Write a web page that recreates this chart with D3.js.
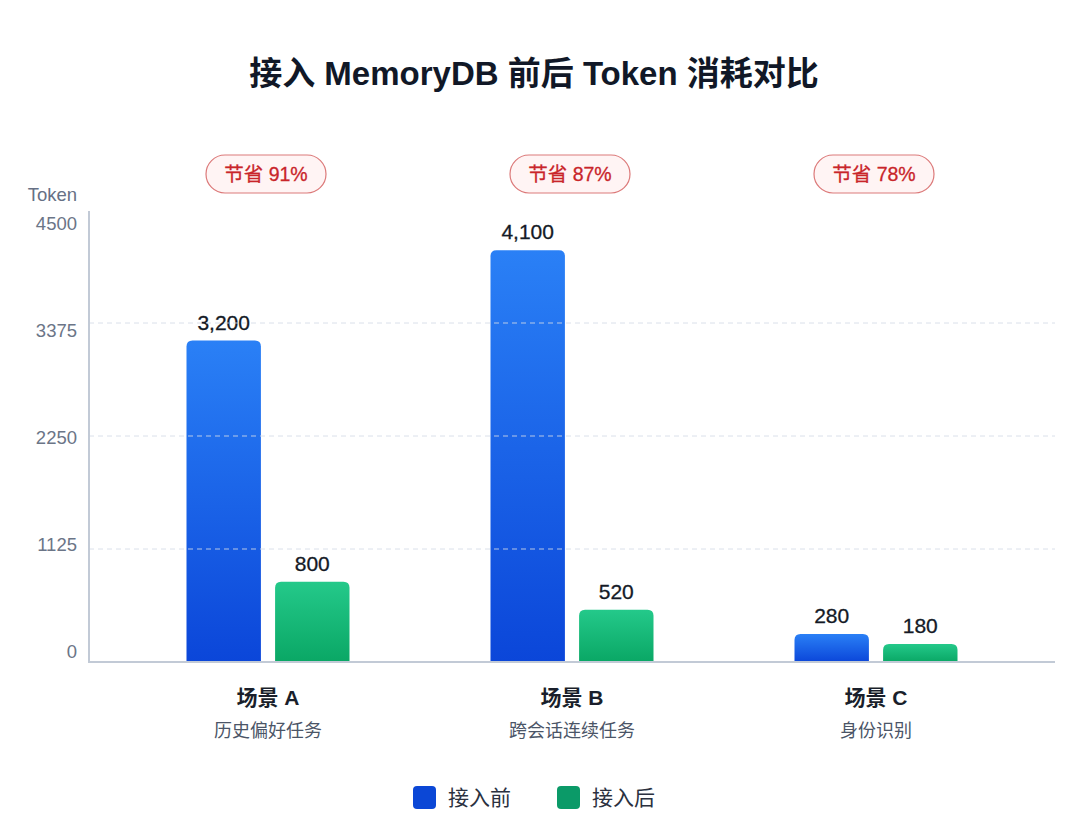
<!DOCTYPE html>
<html>
<head>
<meta charset="utf-8">
<script src="https://cdn.jsdelivr.net/npm/d3@7/dist/d3.min.js"></script>
<style>
  html, body { margin: 0; padding: 0; background: #ffffff; }
  svg { display: block; font-family: "Liberation Sans", "Noto Sans CJK SC", sans-serif; }
</style>
</head>
<body>
<div id="chart"></div>
<script>
/* chart data */
var categories = ["场景 A", "场景 B", "场景 C"]
var subtitles = ["历史偏好任务", "跨会话连续任务", "身份识别"]
var seriesNames = ["接入前", "接入后"]
var beforeValues = [3200, 4100, 280]
var afterValues = [800, 520, 180]
var savings = ["节省 91%", "节省 87%", "节省 78%"]
var yTicks = [0, 1125, 2250, 3375, 4500]

var width = 1080, height = 823

var svg = d3.select("#chart").append("svg")
  .attr("width", width)
  .attr("height", height)

/* gradients */
var defs = svg.append("defs")
function makeGrad(id, top, bottom) {
  var g = defs.append("linearGradient")
    .attr("id", id)
    .attr("x1", 0).attr("y1", 0).attr("x2", 0).attr("y2", 1)
  g.append("stop").attr("offset", "0%").attr("stop-color", top)
  g.append("stop").attr("offset", "100%").attr("stop-color", bottom)
}
makeGrad("gradBefore", "#2a80f6", "#0b46d9")
makeGrad("gradAfter", "#24c98a", "#0aa765")

var seriesFill = ["url(#gradBefore)", "url(#gradAfter)"]
var legendColors = ["#0b47d6", "#0b9a68"]

/* scales */
var plotLeft = 89, plotRight = 1055
var y = d3.scaleLinear()
  .domain([0, 4500])
  .range([662, 210])
// tick labels sit slightly off their grid lines in the original
var yLabel = d3.scaleLinear()
  .domain([0, 4500])
  .range([652, 224])

var x0 = d3.scaleBand()
  .domain(categories)
  .range([116, 1028])

var x1 = d3.scaleBand()
  .domain(seriesNames)
  .range([0, 163])
  .paddingInner(0.16)

/* title */
svg.append("text")
  .attr("x", width / 2 - 6)
  .attr("y", 85)
  .attr("text-anchor", "middle")
  .style("font-size", "33px")
  .style("font-weight", "700")
  .style("fill", "#111827")
  .text("接入 MemoryDB 前后 Token 消耗对比")

/* y axis label */
svg.append("text")
  .attr("x", 77)
  .attr("y", 201)
  .attr("text-anchor", "end")
  .style("font-size", "18.5px")
  .style("fill", "#667085")
  .text("Token")

/* y ticks */
svg.selectAll(".ytick")
  .data(yTicks)
  .enter().append("text")
  .attr("class", "ytick")
  .attr("x", 77)
  .attr("y", function(d) { return yLabel(d) })
  .attr("dy", "0.35em")
  .attr("text-anchor", "end")
  .style("font-size", "18.5px")
  .style("fill", "#6b7587")
  .text(function(d) { return d })

/* bars */
var groups = svg.selectAll(".group")
  .data(categories)
  .enter().append("g")
  .attr("class", "group")
  .attr("transform", function(d) { return "translate(" + (x0(d) + (x0.bandwidth() - 163) / 2) + ",0)" })

function topRounded(x, yTop, w, h, r) {
  r = Math.min(r, h)
  return "M" + x + "," + (yTop + h) +
    "V" + (yTop + r) +
    "Q" + x + "," + yTop + " " + (x + r) + "," + yTop +
    "H" + (x + w - r) +
    "Q" + (x + w) + "," + yTop + " " + (x + w) + "," + (yTop + r) +
    "V" + (yTop + h) + "Z"
}

groups.each(function(cat, i) {
  var g = d3.select(this)
  var vals = [beforeValues[i], afterValues[i]]
  seriesNames.forEach(function(s, j) {
    var bx = x1(s)
    var by = y(vals[j])
    g.append("path")
      .attr("d", topRounded(bx, by, x1.bandwidth(), y(0) - by, 6))
      .attr("fill", seriesFill[j])
    g.append("text")
      .attr("x", bx + x1.bandwidth() / 2)
      .attr("y", by - 11)
      .attr("text-anchor", "middle")
      .style("font-size", "21px")
      .style("fill", "#141a26")
      .style("stroke", "#141a26")
      .style("stroke-width", 0.3)
      .text(d3.format(",")(vals[j]))
  })
})

/* grid lines over bars */
svg.selectAll(".grid")
  .data(yTicks.slice(1, 4))
  .enter().append("line")
  .attr("class", "grid")
  .attr("x1", plotLeft)
  .attr("x2", plotRight)
  .attr("y1", function(d) { return y(d) })
  .attr("y2", function(d) { return y(d) })
  .style("stroke", "#d3dbe6")
  .style("stroke-opacity", 0.85)
  .style("stroke-width", 1)
  .style("stroke-dasharray", "5,4")

/* axes lines */
svg.append("line")
  .attr("x1", plotLeft).attr("x2", plotLeft)
  .attr("y1", 211).attr("y2", y(0))
  .style("stroke", "#c2cad6")
  .style("stroke-width", 2)
svg.append("line")
  .attr("x1", plotLeft - 1).attr("x2", plotRight)
  .attr("y1", y(0)).attr("y2", y(0))
  .style("stroke", "#c2cad6")
  .style("stroke-width", 2)

/* saving badges */
savings.forEach(function(t, i) {
  var cx = x0(categories[i]) + x0.bandwidth() / 2 - 2
  svg.append("rect")
    .attr("x", cx - 60)
    .attr("y", 155)
    .attr("width", 120)
    .attr("height", 38)
    .attr("rx", 19)
    .style("fill", "#fff4f4")
    .style("stroke", "#dc7a7a")
    .style("stroke-width", 1.2)
  svg.append("text")
    .attr("x", cx)
    .attr("y", 181)
    .attr("text-anchor", "middle")
    .style("font-size", "19.5px")
    .style("fill", "#c9252a")
    .style("stroke", "#c9252a")
    .style("stroke-width", 0.3)
    .text(t)
})

/* category labels */
categories.forEach(function(c, i) {
  var cx = x0(c) + x0.bandwidth() / 2
  svg.append("text")
    .attr("x", cx)
    .attr("y", 705)
    .attr("text-anchor", "middle")
    .style("font-size", "21px")
    .style("font-weight", "700")
    .style("fill", "#1a1f2b")
    .text(c)
  svg.append("text")
    .attr("x", cx)
    .attr("y", 737)
    .attr("text-anchor", "middle")
    .style("font-size", "18px")
    .style("fill", "#4b5567")
    .text(subtitles[i])
})

/* legend */
var legendX = [413, 557]
seriesNames.forEach(function(s, j) {
  svg.append("rect")
    .attr("x", legendX[j])
    .attr("y", 786)
    .attr("width", 23)
    .attr("height", 23)
    .attr("rx", 4)
    .style("fill", legendColors[j])
  svg.append("text")
    .attr("x", legendX[j] + 35)
    .attr("y", 805)
    .style("font-size", "21px")
    .style("fill", "#2b3140")
    .text(s)
})
</script>
</body>
</html>
